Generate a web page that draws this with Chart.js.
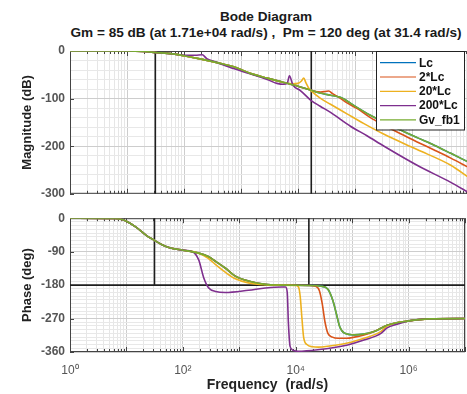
<!DOCTYPE html>
<html lang="en">
  <head>
    <meta charset="UTF-8" />
    <title>Bode Diagram</title>
    <script src="https://cdn.jsdelivr.net/npm/chart.js"></script>
    <style>
      body { margin: 0; background: #fff; }
      #wrap {
        position: relative; width: 467px; height: 394px; overflow: hidden;
        font-family: "Liberation Sans", Arial, sans-serif;
      }
      .ttl {
        position: absolute; left: 0; width: 532px; text-align: center;
        font-weight: bold; font-size: 13.6px; line-height: 15px; color: #1a1a1a;
        white-space: pre;
      }
      canvas { position: absolute; left: 0; }
    </style>
  </head>
  <body>
    <div id="wrap">
      <div class="ttl" style="top: 9px">Bode Diagram</div>
      <div class="ttl" style="top: 25px">Gm = 85 dB (at 1.71e+04 rad/s) ,  Pm = 120 deg (at 31.4 rad/s)</div>
      <canvas id="mag" width="476" height="206" style="top: 0"></canvas>
      <canvas id="phase" width="476" height="188" style="top: 206px"></canvas>
    </div>

    <script>
      // frequencies in rad/s, magnitude in dB, phase in deg
      const magW_lc = [1, 10, 20, 31.6, 63.1, 100, 200, 398, 794, 1450, 2880, 5620, 1e4, 16600, 22400, 37200, 50100, 60300, 72400, 110000, 186000, 324000, 631000, 1.23e6, 2.45e6, 4.79e6, 1e7];
      const magDb_lc = [0, 0, -1, -3, -6, -10, -17, -25, -34, -47, -57, -66, -74, -82, -87, -93, -96, -99, -105, -119, -135, -149, -166, -182, -198, -215, -234];

      const magW_2lc = [1, 10, 20, 31.6, 63.1, 100, 200, 398, 794, 1450, 2880, 5620, 1e4, 16600, 20000, 25100, 30200, 34700, 39800, 50100, 72400, 110000, 186000, 324000, 631000, 1.23e6, 2.45e6, 4.79e6, 1e7];
      const magDb_2lc = [0, 0, -1, -3, -6, -10, -17, -25, -34, -47, -57, -66, -74, -82, -85, -86, -85, -84, -89, -96, -109, -121, -140, -156, -174, -191, -208, -225, -245];

      const magW_20lc = [1, 10, 20, 31.6, 63.1, 100, 200, 398, 794, 1450, 2880, 5620, 7940, 1e4, 11500, 12600, 13800, 15800, 17800, 24500, 37200, 72400, 141000, 324000, 1.23e6, 4.79e6, 1e7];
      const magDb_20lc = [0, 0, -1, -3, -6, -10, -17, -25, -34, -47, -57, -66, -69, -68, -63, -57, -67, -80, -86, -99, -112, -132, -152, -175, -207, -240, -266];

      const magW_200lc = [1, 10, 20, 31.6, 63.1, 100, 158, 209, 251, 380, 741, 1450, 2880, 4270, 5620, 6460, 7080, 7940, 8320, 11000, 16600, 24500, 37200, 83200, 162000, 324000, 1.23e6, 4.79e6, 1e7];
      const magDb_200lc = [0, 0, -1, -3, -6, -9, -9, -8, -16, -24, -37, -48, -60, -68, -70, -68, -52, -68, -73, -83, -103, -116, -129, -158, -178, -200, -240, -276, -298];

      const magW_gv = magW_lc;
      const magDb_gv = magDb_lc;

      const phW_lc = [1, 6.31, 7.94, 10, 14.8, 22.4, 30.9, 43.7, 63.1, 100, 191, 282, 380, 562, 851, 1450, 2880, 5620, 16600, 28200, 37200, 45700, 52500, 60300, 72400, 110000, 158000, 245000, 417000, 955000, 2.4e6, 1e7];
      const phDeg_lc = [0, -1, -3, -8, -24, -46, -59, -72, -81, -86, -94, -103, -116, -134, -156, -169, -178, -180, -181, -183, -191, -222, -257, -292, -309, -314, -312, -305, -288, -277, -271, -270];

      const phW_2lc = [1, 6.31, 7.94, 10, 14.8, 22.4, 30.9, 43.7, 63.1, 100, 191, 282, 380, 562, 851, 1450, 2880, 5620, 16600, 22400, 26300, 29500, 33100, 37200, 44700, 56200, 79400, 110000, 162000, 245000, 417000, 955000, 2.4e6, 1e7];
      const phDeg_2lc = [0, -1, -3, -8, -24, -46, -59, -72, -81, -86, -94, -103, -116, -134, -156, -169, -178, -180, -181, -183, -195, -230, -280, -310, -320, -323, -323, -320, -314, -305, -288, -277, -271, -270];

      const phW_20lc = [1, 6.31, 7.94, 10, 14.8, 22.4, 30.9, 43.7, 63.1, 100, 191, 282, 380, 562, 851, 1450, 2880, 5620, 1e4, 11200, 12000, 12900, 13800, 15800, 20000, 25100, 39800, 83200, 162000, 316000, 417000, 955000, 2.4e6, 1e7];
      const phDeg_20lc = [0, -1, -3, -8, -24, -46, -59, -72, -81, -86, -94, -108, -125, -145, -163, -174, -179, -180, -181, -185, -210, -270, -320, -340, -346, -347, -344, -336, -323, -306, -290, -277, -271, -270];

      const phW_200lc = [1, 6.31, 7.94, 10, 14.8, 22.4, 30.9, 43.7, 63.1, 100, 148, 191, 234, 288, 380, 562, 1450, 2880, 5620, 6610, 7080, 7410, 7940, 8910, 11000, 24500, 83200, 162000, 324000, 417000, 631000, 955000, 2.4e6, 1e7];
      const phDeg_200lc = [0, -1, -3, -8, -24, -46, -59, -72, -81, -86, -90, -112, -160, -188, -197, -200, -194, -188, -185, -185, -200, -280, -345, -355, -358, -354, -341, -328, -310, -295, -285, -277, -271, -270];

      const phW_gv = phW_lc;
      const phDeg_gv = phDeg_lc;

      const seriesNames = ["Lc", "2*Lc", "20*Lc", "200*Lc", "Gv_fb1"];
      const seriesColors = ["#0072BD", "#D95319", "#EDB120", "#7E2F8E", "#77AC30"];

      const xTickLabels = { 1: "10\u2070", 100: "10\u00B2", 10000: "10\u2074", 1000000: "10\u2076" };
      const magTicks = [-300, -200, -100, 0];
      const phaseTicks = [-360, -270, -180, -90, 0];

      const gmFreq = 1.71e4; // gain margin frequency
      const pmFreq = 31.4; // phase margin frequency

      const FONT = '"Liberation Sans", Arial, sans-serif';
      Chart.defaults.font.family = FONT;

      function pts(w, v) {
        return w.map((x, i) => ({ x: x, y: v[i] }));
      }

      function makeDatasets(ws, vs) {
        return seriesNames.map((name, i) => ({
          label: name,
          data: pts(ws[i], vs[i]),
          borderColor: seriesColors[i],
          backgroundColor: seriesColors[i],
          borderWidth: 1.6,
          pointRadius: 0,
          cubicInterpolationMode: "monotone",
          order: seriesNames.length - 1 - i, // Gv_fb1 drawn on top
        }));
      }

      function isDecade(v) {
        const l = Math.log10(v);
        return Math.abs(l - Math.round(l)) < 1e-9;
      }

      function freqAxis(showLabels) {
        return {
          type: "logarithmic",
          min: 1,
          max: 1e7,
          afterBuildTicks: (s) => {
            const t = [];
            for (let d = 1; d < 1e7; d *= 10)
              for (let k = 1; k < 10; k++) t.push({ value: k * d });
            t.push({ value: 1e7 });
            s.ticks = t;
          },
          afterFit: (s) => {
            s.height = showLabels ? 42 : 0;
          },
          ticks: {
            display: showLabels,
            autoSkip: false,
            maxRotation: 0,
            padding: 11,
            color: "#555",
            font: { size: 12 },
            callback: (v) => xTickLabels[v] || "",
          },
          grid: {
            drawTicks: false,
            color: (c) => (c.tick && isDecade(c.tick.value) ? "#cdcdcd" : "#e6e6e6"),
          },
          border: { display: false },
          title: {
            display: showLabels,
            text: "Frequency  (rad/s)",
            color: "#222",
            font: { size: 14, weight: "bold" },
            padding: { top: 0, bottom: 0 },
          },
        };
      }

      function valueAxis(min, step, labelled, major, title) {
        return {
          min: min,
          max: 0,
          afterBuildTicks: (s) => {
            const t = [];
            for (let v = min; v <= 0; v += step) t.push({ value: v });
            s.ticks = t;
          },
          afterFit: (s) => {
            s.width = 70;
          },
          ticks: {
            autoSkip: false,
            padding: 5,
            color: "#555",
            font: { size: 12, weight: "bold" },
            callback: (v) => (labelled.includes(v) ? v : ""),
          },
          grid: {
            drawTicks: false,
            color: (c) => (c.tick && c.tick.value % major === 0 ? "#cdcdcd" : "#e8e8e8"),
          },
          border: { display: false },
          title: {
            display: true,
            text: title,
            color: "#222",
            font: { size: 13, weight: "bold" },
            padding: { top: 20, bottom: 0 },
          },
        };
      }

      // axes box, inner tick marks and the margin markers
      const framePlugin = {
        id: "frame",
        beforeDatasetsDraw(chart, args, opts) {
          const { ctx, chartArea: a, scales } = chart;
          const x = scales.x, y = scales.y;
          ctx.save();
          ctx.strokeStyle = "#444";
          ctx.lineWidth = 1;
          ctx.strokeRect(a.left + 0.5, a.top + 0.5, a.width - 1, a.height - 1);

          ctx.beginPath();
          x.ticks.forEach((t) => {
            const px = Math.round(x.getPixelForValue(t.value)) + 0.5;
            const len = isDecade(t.value) ? 5 : 3;
            ctx.moveTo(px, a.bottom);
            ctx.lineTo(px, a.bottom - len);
            ctx.moveTo(px, a.top);
            ctx.lineTo(px, a.top + len);
          });
          opts.ticks.forEach((v) => {
            const py = Math.round(y.getPixelForValue(v)) + 0.5;
            ctx.moveTo(a.left, py);
            ctx.lineTo(a.left + 4, py);
          });
          ctx.stroke();

          // margin markers
          ctx.strokeStyle = "#1e1e1e";
          ctx.lineWidth = 1.6;
          ctx.beginPath();
          const yEnd = opts.crossAt == null ? a.bottom : y.getPixelForValue(opts.crossAt);
          [pmFreq, gmFreq].forEach((f) => {
            const px = x.getPixelForValue(f);
            ctx.moveTo(px, a.top);
            ctx.lineTo(px, yEnd);
          });
          if (opts.crossAt != null) {
            ctx.moveTo(a.left, yEnd);
            ctx.lineTo(a.right, yEnd);
          }
          ctx.stroke();
          ctx.restore();
        },
      };

      const legendPlugin = {
        id: "legendBox",
        afterDatasetsDraw(chart) {
          const { ctx, chartArea: a } = chart;
          const sets = chart.data.datasets;
          const right = a.right - 5, left = right - 88, top = a.top;
          const rowH = 14.3;
          const h = rowH * sets.length + 7;
          ctx.save();
          ctx.fillStyle = "#fff";
          ctx.fillRect(left, top, right - left, h);
          ctx.strokeStyle = "#222";
          ctx.lineWidth = 1;
          ctx.strokeRect(left + 0.5, top + 0.5, right - left, h);
          ctx.font = "bold 12px " + FONT;
          ctx.textBaseline = "middle";
          sets.forEach((ds, i) => {
            const yy = top + 11.7 + i * rowH;
            ctx.strokeStyle = ds.borderColor;
            ctx.lineWidth = 1.2;
            ctx.beginPath();
            ctx.moveTo(left + 4, yy);
            ctx.lineTo(left + 40, yy);
            ctx.stroke();
            ctx.fillStyle = "#111";
            ctx.fillText(ds.label, left + 43, yy + 0.5);
          });
          ctx.restore();
        },
      };

      new Chart(document.getElementById("mag"), {
        type: "line",
        data: {
          datasets: makeDatasets(
            [magW_lc, magW_2lc, magW_20lc, magW_200lc, magW_gv],
            [magDb_lc, magDb_2lc, magDb_20lc, magDb_200lc, magDb_gv]
          ),
        },
        plugins: [framePlugin, legendPlugin],
        options: {
          responsive: false,
          animation: false,
          events: [],
          layout: { padding: { top: 51, right: 7, bottom: 2, left: 0 } },
          scales: {
            x: freqAxis(false),
            y: valueAxis(-300, 20, magTicks, 100, "Magnitude (dB)"),
          },
          plugins: {
            legend: { display: false },
            tooltip: { enabled: false },
            frame: { crossAt: null, ticks: magTicks },
          },
        },
      });

      new Chart(document.getElementById("phase"), {
        type: "line",
        data: {
          datasets: makeDatasets(
            [phW_lc, phW_2lc, phW_20lc, phW_200lc, phW_gv],
            [phDeg_lc, phDeg_2lc, phDeg_20lc, phDeg_200lc, phDeg_gv]
          ),
        },
        plugins: [framePlugin],
        options: {
          responsive: false,
          animation: false,
          events: [],
          layout: { padding: { top: 10, right: 7, bottom: 0, left: 0 } },
          scales: {
            x: freqAxis(true),
            y: valueAxis(-360, 10, phaseTicks, 90, "Phase (deg)"),
          },
          plugins: {
            legend: { display: false },
            tooltip: { enabled: false },
            frame: { crossAt: -180, ticks: phaseTicks },
          },
        },
      });
    </script>
  </body>
</html>
